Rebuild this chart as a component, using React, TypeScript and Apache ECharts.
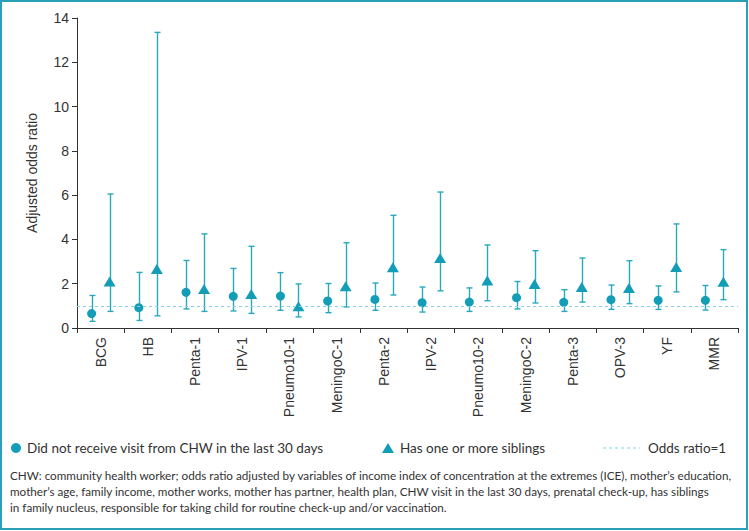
import React, { useEffect, useRef } from "react";
import * as echarts from "echarts";

const categories = [
  "BCG", "HB", "Penta-1", "IPV-1", "Pneumo10-1", "MeningoC-1", "Penta-2",
  "IPV-2", "Pneumo10-2", "MeningoC-2", "Penta-3", "OPV-3", "YF", "MMR",
];
// Did not receive visit from CHW in the last 30 days
const visitOR = [0.65, 0.92, 1.61, 1.43, 1.44, 1.22, 1.29, 1.14, 1.17, 1.37, 1.16, 1.28, 1.25, 1.25];
const visitLow = [0.30, 0.34, 0.86, 0.77, 0.80, 0.69, 0.80, 0.72, 0.75, 0.86, 0.75, 0.84, 0.84, 0.81];
const visitHigh = [1.47, 2.51, 3.05, 2.69, 2.50, 2.01, 2.03, 1.85, 1.81, 2.10, 1.73, 1.94, 1.90, 1.92];
// Has one or more siblings
const sibOR = [2.10, 2.66, 1.76, 1.53, 0.98, 1.88, 2.74, 3.16, 2.14, 1.99, 1.85, 1.81, 2.76, 2.09];
const sibLow = [0.75, 0.55, 0.75, 0.66, 0.50, 0.95, 1.49, 1.68, 1.23, 1.13, 1.17, 1.10, 1.63, 1.28];
const sibHigh = [6.05, 13.35, 4.25, 3.69, 1.99, 3.85, 5.09, 6.14, 3.75, 3.49, 3.16, 3.04, 4.70, 3.54];

const yTicks = [0, 2, 4, 6, 8, 10, 12, 14];
const refValue = 1;

const legendLabels = [
  "Did not receive visit from CHW in the last 30 days",
  "Has one or more siblings",
  "Odds ratio=1",
];
const footnoteLines = [
  "CHW: community health worker; odds ratio adjusted by variables of income index of concentration at the extremes (ICE), mother\u2019s education,",
  "mother\u2019s age, family income, mother works, mother has partner, health plan, CHW visit in the last 30 days, prenatal check-up, has siblings",
  "in family nucleus, responsible for taking child for routine check-up and/or vaccination.",
];

const MARK = "#139db6";
const BAR = "#2aa8be";
const REF = "#86d3df";
const FRAME = "#2aa0b8";
const TEXT = "#333333";
const AXIS_FONT = "'Liberation Sans', Arial, sans-serif";
const NOTE_FONT = "Lato, 'Open Sans', sans-serif";
const OFFSET = 9;

function errorBarSeries(name: string, low: number[], high: number[], offset: number) {
  return {
    name,
    type: "custom",
    z: 2,
    data: low.map((l, i) => [i, l, high[i]]),
    encode: { x: 0, y: [1, 2] },
    renderItem: (params: any, api: any) => {
      const lo = api.coord([api.value(0), api.value(1)]);
      const hi = api.coord([api.value(0), api.value(2)]);
      const x = Math.round(lo[0] + offset) + 0.5;
      const cap = 3;
      const style = { stroke: BAR, lineWidth: 1.4 };
      return {
        type: "group",
        children: [
          { type: "line", shape: { x1: x, y1: lo[1], x2: x, y2: hi[1] }, style },
          { type: "line", shape: { x1: x - cap, y1: lo[1], x2: x + cap, y2: lo[1] }, style },
          { type: "line", shape: { x1: x - cap, y1: hi[1], x2: x + cap, y2: hi[1] }, style },
        ],
      };
    },
  };
}

export default function App() {
  const ref = useRef<HTMLDivElement>(null);
  useEffect(() => {
    if (!ref.current) return;
    const chart = echarts.init(ref.current, null, { renderer: "svg" });
    const legendY = 448;
    chart.setOption({
      animation: false,
      backgroundColor: "#ffffff",
      grid: { left: 77, right: 11, top: 18, bottom: 203, containLabel: false },
      xAxis: {
        type: "category",
        data: categories,
        boundaryGap: true,
        axisLine: { lineStyle: { color: TEXT, width: 1 } },
        axisTick: { show: true, inside: false, length: 5, alignWithLabel: false, lineStyle: { color: TEXT } },
        axisLabel: {
          rotate: 90,
          interval: 0,
          margin: 9,
          color: TEXT,
          fontSize: 14,
          fontFamily: AXIS_FONT,
        },
        splitLine: { show: false },
      },
      yAxis: {
        type: "value",
        min: yTicks[0],
        max: yTicks[yTicks.length - 1],
        interval: 2,
        name: "Adjusted odds ratio",
        nameLocation: "middle",
        nameGap: 38,
        nameTextStyle: { color: TEXT, fontSize: 14, fontFamily: AXIS_FONT },
        axisLine: { show: true, lineStyle: { color: TEXT, width: 1 } },
        axisTick: { show: true, inside: false, length: 5, lineStyle: { color: TEXT } },
        axisLabel: { color: TEXT, fontSize: 14, fontFamily: AXIS_FONT, margin: 8 },
        splitLine: { show: false },
      },
      series: [
        errorBarSeries("visitCI", visitLow, visitHigh, -OFFSET),
        errorBarSeries("sibCI", sibLow, sibHigh, OFFSET),
        {
          name: legendLabels[0],
          type: "scatter",
          z: 3,
          data: visitOR,
          symbol: "circle",
          symbolSize: 9,
          symbolOffset: [-OFFSET, 0],
          itemStyle: { color: MARK, opacity: 1 },
          markLine: {
            silent: true,
            symbol: ["none", "none"],
            label: { show: false },
            lineStyle: { color: REF, type: [3, 3], width: 1 },
            data: [{ yAxis: refValue }],
          },
        },
        {
          name: legendLabels[1],
          type: "scatter",
          z: 3,
          data: sibOR,
          symbol: "triangle",
          symbolSize: [12, 10],
          symbolOffset: [OFFSET, 0],
          itemStyle: { color: MARK, opacity: 1 },
        },
      ],
      graphic: [
        {
          type: "rect",
          shape: { x: 1, y: 1, width: 746, height: 528 },
          style: { fill: "none", stroke: FRAME, lineWidth: 2 },
          silent: true,
        },
        { type: "circle", shape: { cx: 16, cy: legendY, r: 5 }, style: { fill: MARK } },
        {
          type: "text",
          x: 27,
          y: legendY,
          style: { text: legendLabels[0], fill: TEXT, font: `13.5px ${NOTE_FONT}`, verticalAlign: "middle" },
        },
        {
          type: "polygon",
          shape: { points: [[382, legendY + 5], [394, legendY + 5], [388, legendY - 5]] },
          style: { fill: MARK },
        },
        {
          type: "text",
          x: 400,
          y: legendY,
          style: { text: legendLabels[1], fill: TEXT, font: `13.5px ${NOTE_FONT}`, verticalAlign: "middle" },
        },
        {
          type: "line",
          shape: { x1: 603, y1: legendY, x2: 640, y2: legendY },
          style: { stroke: REF, lineWidth: 1, lineDash: [3, 3] },
        },
        {
          type: "text",
          x: 648,
          y: legendY,
          style: { text: legendLabels[2], fill: TEXT, font: `13.5px ${NOTE_FONT}`, verticalAlign: "middle" },
        },
        ...footnoteLines.map((t, i) => ({
          type: "text",
          x: 10,
          y: 475 + i * 16,
          style: { text: t, fill: TEXT, font: `11.7px ${NOTE_FONT}`, verticalAlign: "middle" },
        })),
      ],
    });
    return () => chart.dispose();
  }, []);
  return (
    <div
      ref={ref}
      style={{ position: "fixed", left: 0, top: 0, width: 749, height: 531 }}
    />
  );
}
